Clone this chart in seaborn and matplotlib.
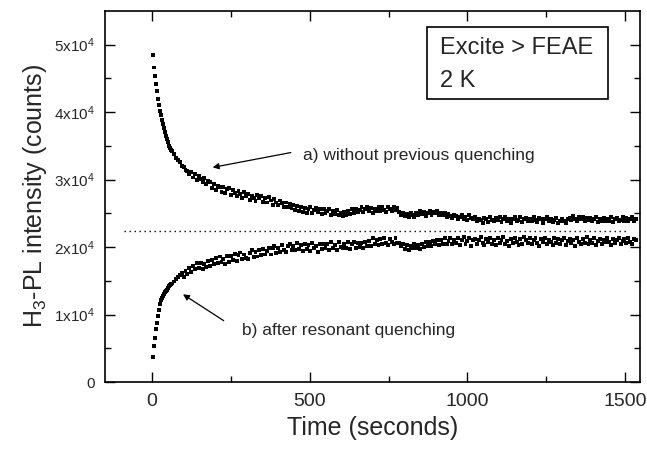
import numpy as np
import pandas as pd
import seaborn as sns
import matplotlib.pyplot as plt
from matplotlib.patches import Rectangle

sns.set_style("ticks")
plt.rcParams["font.family"] = ["Liberation Sans", "DejaVu Sans"]
plt.rcParams["mathtext.fontset"] = "custom"
plt.rcParams["mathtext.rm"] = "Liberation Sans"
plt.rcParams["mathtext.default"] = "regular"

# sampling times (s): 3 s steps at the start, 6 s steps afterwards
time_fast = np.arange(4, 62, 3)
time_slow = np.arange(64, 1540, 6)

# a) without previous quenching, counts in units of 1000
a_fast = [48.4, 46.6, 45.4, 44.2, 43.1, 42.0, 41.0, 40.2, 39.5, 38.8,
          38.2, 37.6, 37.1, 36.5, 36.0, 35.6, 35.3, 35.0, 34.7, 34.4]
a_slow = [34.2, 33.8, 33.2, 32.9, 32.6, 32.0, 31.9, 31.4, 31.3, 30.8,
          31.1, 30.3, 30.8, 29.9, 30.5, 30.1, 29.6, 30.2, 29.4, 29.8,
          29.6, 28.8, 29.3, 28.5, 29.1, 28.9, 28.2, 28.9, 28.0, 28.6,
          28.7, 27.7, 28.4, 28.0, 27.5, 28.3, 27.8, 27.2, 28.1, 27.6,
          27.9, 27.0, 27.6, 27.3, 26.8, 27.7, 27.2, 27.5, 26.7, 27.3,
          26.6, 27.4, 26.9, 26.3, 27.1, 26.6, 26.2, 26.9, 26.5, 25.9,
          26.6, 25.9, 26.4, 25.8, 26.2, 25.5, 26.1, 25.4, 25.9, 25.2,
          25.8, 25.1, 25.6, 25.9, 25.0, 25.5, 25.8, 25.2, 25.6, 24.9,
          25.7, 25.0, 25.4, 25.7, 24.8, 25.3, 24.9, 25.5, 24.7, 25.1,
          24.6, 25.2, 24.8, 25.3, 24.9, 25.6, 25.1, 25.7, 25.2, 25.5,
          25.9, 25.2, 25.6, 26.0, 25.3, 25.8, 25.1, 25.7, 25.4, 26.0,
          25.3, 25.9, 25.5, 25.2, 26.0, 25.6, 25.4, 25.9, 25.5, 25.8,
          25.2, 24.8, 25.1, 24.6, 24.9, 24.4, 25.0, 24.7, 24.5, 25.0,
          24.7, 25.3, 24.9, 25.2, 24.6, 25.1, 25.4, 24.8, 25.2, 25.0,
          25.3, 24.8, 25.1, 24.7, 25.0, 24.5, 24.9, 24.6, 24.3, 24.8,
          24.6, 24.1, 24.5, 24.8, 24.2, 24.4, 24.0, 24.7, 24.3, 24.1,
          24.4, 23.8, 24.2, 24.0, 23.6, 24.3, 24.1, 23.7, 24.5, 24.0,
          23.8, 24.3, 24.0, 24.5, 23.7, 24.1, 24.4, 23.9, 24.2, 23.6,
          24.2, 24.5, 23.8, 24.0, 24.4, 23.7, 24.1, 24.3, 23.9, 24.2,
          23.8, 24.4, 24.0, 23.7, 24.3, 24.1, 23.6, 24.2, 24.5, 23.9,
          24.1, 23.7, 24.0, 24.3, 23.6, 23.9, 24.2, 23.8, 23.5, 24.1,
          24.3, 24.0, 24.6, 24.2, 23.9, 24.4, 24.1, 24.5, 23.9, 24.3,
          24.0, 24.3, 23.8, 24.1, 24.4, 23.7, 24.2, 23.9, 24.3, 23.8,
          24.2, 23.9, 24.4, 23.7, 24.1, 24.3, 23.8, 24.0, 24.4, 23.9,
          24.3, 23.8, 24.1, 24.4, 23.9, 24.2]

# b) after resonant quenching, counts in units of 1000
b_fast = [3.7, 5.4, 6.6, 7.8, 8.8, 9.8, 10.7, 11.5, 12.1, 12.5,
          12.8, 13.1, 13.3, 13.5, 13.7, 13.9, 14.0, 14.2, 14.4, 14.5]
b_slow = [14.6, 14.9, 15.3, 15.5, 15.8, 16.1, 15.6, 16.5, 16.0, 16.9,
          16.3, 17.2, 16.7, 17.6, 16.9, 17.7, 16.8, 17.5, 17.1, 17.9,
          17.2, 18.1, 17.5, 18.4, 17.6, 18.6, 17.8, 18.3, 17.5, 18.7,
          17.8, 18.7, 18.1, 19.0, 18.0, 18.8, 19.2, 18.2, 18.9, 18.4,
          18.2, 19.1, 19.5, 18.5, 19.3, 18.6, 19.6, 18.8, 19.7, 18.9,
          19.4, 19.9, 18.9, 19.8, 20.2, 19.1, 19.9, 19.3, 20.3, 19.5,
          19.3, 20.1, 20.5, 19.5, 20.2, 19.6, 20.6, 19.7, 20.3, 19.4,
          20.4, 19.7, 20.3, 19.4, 20.6, 19.8, 20.2, 19.3, 20.5, 19.7,
          20.5, 19.8, 20.4, 19.6, 20.7, 19.9, 20.3, 19.6, 20.8, 20.0,
          19.8, 20.5, 19.9, 20.7, 19.7, 20.4, 20.8, 19.8, 20.6, 20.0,
          20.6, 19.9, 20.8, 20.1, 20.9, 20.2, 21.3, 20.4, 21.1, 20.3,
          21.2, 20.5, 21.4, 20.6, 20.3, 21.2, 20.8, 20.4, 21.3, 20.6,
          20.6, 20.1, 20.4, 19.7, 20.3, 19.6, 20.2, 19.8, 20.5, 19.9,
          20.3, 19.7, 20.5, 20.0, 20.7, 20.1, 20.8, 20.2, 20.9, 20.4,
          21.0, 20.3, 21.1, 20.5, 21.3, 20.4, 20.9, 21.4, 20.5, 21.0,
          20.6, 21.3, 20.3, 21.0, 21.5, 20.5, 20.9, 21.3, 20.2, 21.0,
          21.2, 20.4, 21.0, 21.5, 20.6, 20.3, 21.2, 20.8, 21.4, 20.5,
          21.0, 20.3, 21.3, 20.6, 21.0, 21.5, 20.4, 20.9, 20.2, 21.2,
          20.6, 21.3, 20.8, 20.3, 21.2, 20.5, 21.5, 21.0, 20.6, 21.3,
          20.4, 21.0, 21.4, 20.6, 20.2, 21.2, 20.8, 21.3, 20.5, 21.0,
          20.8, 20.3, 21.3, 20.6, 21.2, 20.4, 21.0, 21.4, 20.3, 20.9,
          21.2, 20.6, 21.0, 20.2, 21.3, 20.8, 20.4, 21.2, 20.6, 21.5,
          20.5, 21.0, 20.6, 21.3, 20.3, 20.9, 21.2, 20.5, 21.0, 20.7,
          21.3, 20.8, 20.3, 21.2, 20.6, 21.0, 21.4, 20.5, 20.9, 21.2,
          20.6, 21.3, 20.8, 20.4, 21.2, 21.0]

reference_level = 22400
y_ticks = [0, 10000, 20000, 30000, 40000, 50000]
y_tick_labels = ["0", "1x10$^4$", "2x10$^4$", "3x10$^4$", "4x10$^4$", "5x10$^4$"]
x_ticks = [0, 500, 1000, 1500]

times = np.concatenate([time_fast, time_slow])
df = pd.DataFrame({
    "time": np.concatenate([times, times]),
    "counts": np.concatenate([a_fast, a_slow, b_fast, b_slow]) * 1000,
    "series": ["a"] * len(times) + ["b"] * len(times),
})

fig, ax = plt.subplots(figsize=(6.47, 4.49), dpi=100)
fig.subplots_adjust(left=0.162, right=0.989, bottom=0.149, top=0.976)

sns.scatterplot(data=df, x="time", y="counts", hue="series",
                palette=["black", "black"], marker="s", s=8,
                linewidth=0, legend=False, ax=ax)

ax.plot([-90, 1510], [reference_level, reference_level], color="black",
        lw=1, linestyle=(0, (1, 2.6)))

ax.set_xlim(-150, 1547)
ax.set_ylim(0, 55000)
ax.set_xticks(x_ticks)
ax.set_xticks(np.arange(250, 1550, 500), minor=True)
ax.set_yticks(y_ticks)
ax.set_yticklabels(y_tick_labels)
ax.set_yticks(np.arange(5000, 55000, 10000), minor=True)
ax.tick_params(which="both", direction="in", top=True, right=True,
               width=1, color="black")
ax.tick_params(axis="x", labelsize=14, pad=8)
ax.tick_params(axis="y", labelsize=11, pad=7)
ax.tick_params(which="major", length=7)
ax.tick_params(which="minor", length=4)
for sp in ax.spines.values():
    sp.set_linewidth(1.2)
    sp.set_color("black")

ax.set_xlabel("Time (seconds)", fontsize=18, labelpad=4)
ax.set_ylabel("H$_3$-PL intensity (counts)", fontsize=18, labelpad=4)

ax.text(478, 33600, "a) without previous quenching", fontsize=12.5, va="center")
ax.annotate("", xy=(192, 31800), xytext=(440, 34000),
            arrowprops=dict(arrowstyle="-|>", color="black", lw=0.9,
                            mutation_scale=9, shrinkA=0, shrinkB=0))
ax.text(285, 7700, "b) after resonant quenching", fontsize=12.5, va="center")
ax.annotate("", xy=(98, 13000), xytext=(227, 9100),
            arrowprops=dict(arrowstyle="-|>", color="black", lw=0.9,
                            mutation_scale=9, shrinkA=0, shrinkB=0))

ax.add_patch(Rectangle((0.603, 0.762), 0.337, 0.195, transform=ax.transAxes,
                       fill=False, edgecolor="black", lw=1.2))
ax.text(0.627, 0.884, "Excite > FEAE", transform=ax.transAxes, fontsize=17)
ax.text(0.627, 0.795, "2 K", transform=ax.transAxes, fontsize=17)

fig.savefig("out.png", dpi=100)
